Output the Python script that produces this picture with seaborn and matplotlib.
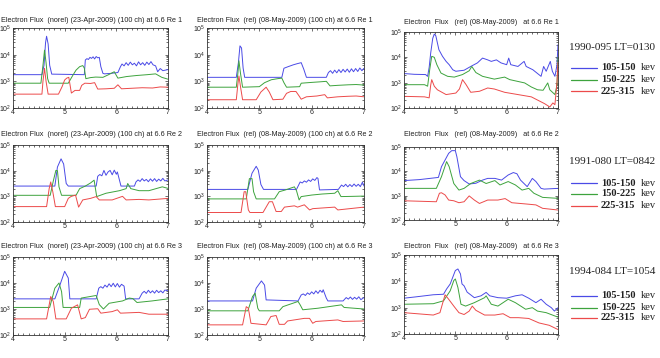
import numpy as np
import pandas as pd
import matplotlib
matplotlib.use("Agg")
import matplotlib.pyplot as plt
import seaborn as sns
from matplotlib.lines import Line2D
from matplotlib.ticker import MultipleLocator, LogLocator, NullFormatter

# log10 of the flux: (L-shell, log10 flux)
p11_blue = [(4.0, 3.25), (4.56, 3.25), (4.60, 3.60), (4.63, 4.45), (4.65, 4.69), (4.68, 4.40), (4.71, 3.60),
            (4.75, 3.27), (5.38, 3.25), (5.40, 3.80), (5.43, 3.85), (5.46, 3.82), (5.49, 3.90), (5.52, 3.86),
            (5.55, 3.92), (5.58, 3.84), (5.61, 3.93), (5.64, 3.88), (5.67, 3.90), (5.70, 3.55), (5.74, 3.30),
            (5.77, 3.28), (5.90, 3.30), (6.03, 3.33), (6.08, 3.55), (6.11, 3.65), (6.15, 3.58), (6.19, 3.70),
            (6.23, 3.60), (6.27, 3.72), (6.31, 3.62), (6.35, 3.68), (6.39, 3.58), (6.43, 3.73), (6.47, 3.62),
            (6.51, 3.70), (6.55, 3.60), (6.59, 3.72), (6.63, 3.63), (6.67, 3.74), (6.71, 3.62), (6.76, 3.58),
            (6.80, 3.36), (6.85, 3.48), (6.90, 3.40), (7.0, 3.44)]
p11_green = [(4.0, 2.93), (4.54, 2.93), (4.58, 3.60), (4.61, 4.17), (4.64, 3.70), (4.67, 3.10), (4.70, 2.93),
             (5.07, 2.93), (5.15, 3.20), (5.22, 3.42), (5.29, 3.55), (5.35, 3.59), (5.38, 3.50), (5.41, 3.10),
             (5.50, 3.14), (5.60, 3.16), (5.74, 3.15), (5.85, 3.25), (5.96, 3.36), (6.03, 3.12), (6.20, 3.18),
             (6.40, 3.22), (6.60, 3.25), (6.76, 3.28), (6.88, 3.15), (7.0, 3.08)]
p11_red = [(4.0, 2.52), (4.56, 2.52), (4.58, 3.00), (4.61, 3.49), (4.64, 3.00), (4.68, 2.52), (4.88, 2.52),
           (4.95, 2.80), (5.00, 3.05), (5.04, 3.12), (5.08, 3.15), (5.13, 2.56), (5.20, 2.66), (5.29, 2.66),
           (5.33, 2.85), (5.39, 2.93), (5.50, 2.92), (5.58, 2.95), (5.64, 2.71), (5.80, 2.72), (5.96, 2.74),
           (6.03, 2.87), (6.10, 2.72), (6.30, 2.74), (6.50, 2.76), (6.70, 2.75), (6.85, 2.79), (7.0, 2.78)]

p12_blue = [(4.0, 3.15), (4.56, 3.15), (4.60, 3.70), (4.63, 4.33), (4.66, 4.25), (4.69, 3.50), (4.72, 3.15),
            (5.43, 3.15), (5.47, 3.49), (5.55, 3.55), (5.65, 3.62), (5.72, 3.66), (5.80, 3.70), (5.85, 3.45),
            (5.90, 3.15), (6.28, 3.15), (6.32, 3.33), (6.36, 3.40), (6.40, 3.30), (6.44, 3.42), (6.48, 3.32),
            (6.52, 3.44), (6.56, 3.33), (6.60, 3.45), (6.64, 3.35), (6.68, 3.46), (6.72, 3.34), (6.76, 3.47),
            (6.80, 3.36), (6.84, 3.48), (6.88, 3.37), (6.92, 3.50), (6.96, 3.40), (7.0, 3.49)]
p12_green = [(4.0, 2.78), (4.56, 2.78), (4.59, 3.30), (4.61, 3.77), (4.64, 3.30), (4.68, 2.78), (5.00, 2.80),
             (5.10, 2.95), (5.23, 3.06), (5.35, 3.10), (5.43, 3.12), (5.47, 2.95), (5.52, 2.78), (5.77, 2.80),
             (5.80, 2.93), (6.00, 2.96), (6.15, 2.98), (6.28, 3.00), (6.35, 2.83), (6.50, 2.85), (6.70, 2.87),
             (6.85, 2.88), (7.0, 2.86)]
p12_red = [(4.0, 2.31), (4.56, 2.31), (4.59, 2.90), (4.61, 3.20), (4.64, 2.80), (4.68, 2.31), (4.94, 2.31),
           (5.03, 2.60), (5.13, 2.78), (5.19, 2.60), (5.26, 2.31), (5.45, 2.33), (5.52, 2.55), (5.60, 2.62),
           (5.70, 2.62), (5.76, 2.45), (5.80, 2.33), (5.90, 2.42), (6.10, 2.45), (6.25, 2.50), (6.30, 2.38),
           (6.50, 2.42), (6.70, 2.44), (6.85, 2.45), (7.0, 2.42)]

p13_blue = [(4.0, 3.36), (4.20, 3.33), (4.42, 3.32), (4.46, 3.25), (4.49, 3.60), (4.52, 4.17), (4.56, 4.75),
            (4.59, 4.92), (4.62, 4.85), (4.68, 4.30), (4.75, 4.04), (4.82, 3.84), (4.88, 3.71), (4.95, 3.51),
            (5.01, 3.45), (5.17, 3.49), (5.30, 3.64), (5.43, 3.78), (5.53, 3.97), (5.63, 3.90), (5.70, 3.84),
            (5.80, 3.90), (5.89, 3.78), (6.00, 3.71), (6.04, 3.97), (6.08, 3.71), (6.22, 3.64), (6.34, 3.84),
            (6.38, 3.64), (6.51, 3.51), (6.67, 3.25), (6.72, 3.64), (6.77, 3.45), (6.85, 3.84), (6.89, 3.45),
            (6.94, 3.25), (6.98, 3.70), (7.0, 4.50)]
p13_green = [(4.0, 2.92), (4.40, 2.92), (4.46, 2.86), (4.50, 3.50), (4.54, 4.04), (4.59, 4.00), (4.64, 3.71),
             (4.72, 3.38), (4.85, 3.25), (4.98, 3.22), (5.14, 3.32), (5.27, 3.47), (5.32, 3.64), (5.40, 3.40),
             (5.53, 3.25), (5.76, 3.14), (5.96, 3.22), (6.06, 3.12), (6.35, 2.99), (6.48, 2.83), (6.60, 2.72),
             (6.71, 2.70), (6.80, 2.99), (6.84, 2.72), (6.94, 2.53), (6.98, 2.90), (7.0, 4.00)]
p13_red = [(4.0, 2.46), (4.40, 2.44), (4.49, 2.40), (4.52, 2.90), (4.54, 3.12), (4.59, 2.86), (4.65, 2.72),
           (4.82, 2.53), (5.01, 2.59), (5.08, 2.75), (5.14, 3.12), (5.21, 2.92), (5.30, 2.62), (5.47, 2.66),
           (5.63, 2.79), (5.76, 2.75), (5.96, 2.62), (6.22, 2.53), (6.48, 2.44), (6.74, 2.17), (6.84, 2.04),
           (6.90, 2.20), (6.94, 2.13), (6.98, 3.00), (7.0, 3.80)]

p21_blue = [(4.0, 3.40), (4.81, 3.40), (4.86, 4.14), (4.93, 4.46), (4.98, 4.26), (5.03, 3.50), (5.07, 3.40),
            (5.61, 3.40), (5.64, 3.78), (5.68, 3.85), (5.72, 3.80), (5.76, 4.01), (5.80, 3.82), (5.84, 3.95),
            (5.88, 4.01), (5.92, 3.84), (5.96, 4.02), (6.00, 3.86), (6.02, 3.95), (6.09, 3.40), (6.35, 3.40),
            (6.38, 3.56), (6.42, 3.64), (6.46, 3.58), (6.50, 3.69), (6.54, 3.60), (6.58, 3.66), (6.62, 3.57),
            (6.66, 3.68), (6.70, 3.59), (6.74, 3.69), (6.78, 3.58), (6.82, 3.67), (6.86, 3.60), (6.90, 3.70),
            (6.94, 3.60), (7.0, 3.64)]
p21_green = [(4.0, 3.04), (4.72, 3.04), (4.78, 3.60), (4.83, 4.01), (4.86, 4.00), (4.89, 3.37), (4.94, 3.04),
             (5.22, 3.04), (5.29, 3.30), (5.40, 3.40), (5.50, 3.52), (5.57, 3.63), (5.62, 2.99), (5.80, 3.12),
             (6.06, 3.22), (6.19, 3.30), (6.22, 3.50), (6.28, 3.30), (6.44, 3.22), (6.63, 3.22), (6.89, 3.37),
             (7.0, 3.31)]
p21_red = [(4.0, 2.60), (4.65, 2.60), (4.70, 3.30), (4.73, 3.56), (4.77, 3.18), (4.82, 2.60), (5.00, 2.60),
           (5.07, 2.92), (5.12, 2.99), (5.21, 3.05), (5.27, 2.58), (5.35, 2.86), (5.50, 2.92), (5.61, 2.99),
           (5.67, 2.86), (5.92, 2.86), (6.12, 3.00), (6.19, 2.86), (6.44, 2.88), (6.63, 2.86), (7.0, 2.92)]

p22_blue = [(4.0, 3.27), (4.78, 3.27), (4.86, 3.90), (4.94, 4.17), (4.98, 4.02), (5.03, 3.46), (5.08, 3.27),
            (5.71, 3.27), (5.78, 3.56), (5.82, 3.52), (5.86, 3.60), (5.90, 3.55), (5.94, 3.64), (5.98, 3.58),
            (6.02, 3.68), (6.06, 3.62), (6.10, 3.73), (6.12, 3.70), (6.15, 3.25), (6.51, 3.27), (6.57, 3.44),
            (6.61, 3.38), (6.65, 3.47), (6.69, 3.37), (6.73, 3.46), (6.77, 3.38), (6.81, 3.48), (6.85, 3.39),
            (6.89, 3.47), (6.93, 3.38), (6.97, 3.55), (7.0, 3.40)]
p22_green = [(4.0, 2.90), (4.75, 2.90), (4.81, 3.69), (4.86, 3.69), (4.89, 3.18), (4.94, 2.90), (5.29, 2.90),
             (5.38, 3.18), (5.50, 3.25), (5.67, 3.37), (5.71, 3.22), (5.76, 2.86), (5.80, 2.99), (6.00, 3.05),
             (6.20, 3.09), (6.44, 3.12), (6.50, 3.22), (6.56, 2.99), (6.80, 3.00), (7.0, 3.01)]
p22_red = [(4.0, 2.37), (4.65, 2.37), (4.71, 3.18), (4.74, 3.18), (4.79, 2.47), (4.82, 2.37), (5.07, 2.37),
           (5.19, 2.79), (5.25, 2.79), (5.32, 2.41), (5.42, 2.41), (5.48, 2.58), (5.67, 2.63), (5.73, 2.58),
           (5.86, 2.67), (5.96, 2.47), (6.02, 2.52), (6.44, 2.58), (6.50, 2.47), (7.0, 2.58)]

p23_blue = [(4.0, 3.62), (4.30, 3.66), (4.67, 3.75), (4.73, 4.19), (4.87, 4.74), (4.93, 4.85), (5.00, 4.85),
            (5.03, 4.60), (5.10, 3.78), (5.17, 3.62), (5.27, 3.48), (5.40, 3.51), (5.53, 3.64), (5.63, 3.71),
            (5.77, 3.71), (5.90, 3.64), (6.03, 3.85), (6.13, 3.95), (6.20, 3.90), (6.27, 3.64), (6.40, 3.37),
            (6.50, 3.71), (6.57, 3.58), (6.67, 3.30), (6.73, 3.27), (7.0, 3.30)]
p23_green = [(4.0, 3.30), (4.63, 3.30), (4.73, 3.78), (4.83, 4.40), (4.88, 4.19), (4.97, 3.50), (5.07, 3.23),
             (5.17, 3.30), (5.30, 3.50), (5.47, 3.64), (5.60, 3.50), (5.77, 3.62), (5.87, 3.44), (6.03, 3.58),
             (6.17, 3.44), (6.30, 3.23), (6.43, 3.30), (6.53, 3.10), (6.70, 2.93), (7.0, 2.89)]
p23_red = [(4.0, 2.79), (4.63, 2.75), (4.69, 3.10), (4.73, 3.12), (4.80, 3.03), (4.87, 2.82), (4.97, 2.79),
           (5.07, 2.71), (5.17, 2.75), (5.27, 2.99), (5.37, 2.82), (5.47, 2.68), (5.63, 2.82), (5.83, 2.82),
           (5.97, 2.88), (6.10, 2.71), (6.37, 2.66), (6.57, 2.62), (6.70, 2.48), (7.0, 2.41)]

p31_blue = [(4.0, 3.39), (4.81, 3.39), (4.91, 3.93), (5.00, 4.45), (5.07, 4.19), (5.10, 3.39), (5.61, 3.39),
            (5.66, 3.80), (5.70, 3.86), (5.74, 3.80), (5.78, 3.92), (5.82, 3.84), (5.86, 3.97), (5.90, 3.86),
            (5.94, 3.99), (5.98, 3.85), (6.02, 3.98), (6.06, 3.84), (6.10, 3.95), (6.15, 3.88), (6.18, 3.39),
            (6.44, 3.39), (6.50, 3.61), (6.54, 3.68), (6.58, 3.60), (6.62, 3.72), (6.66, 3.62), (6.70, 3.70),
            (6.74, 3.61), (6.78, 3.72), (6.82, 3.63), (6.86, 3.70), (6.90, 3.62), (6.94, 3.73), (7.0, 3.70)]
p31_green = [(4.0, 3.06), (4.71, 3.06), (4.81, 3.80), (4.89, 4.00), (4.94, 3.67), (4.97, 3.06), (5.29, 3.06),
             (5.32, 3.42), (5.61, 3.52), (5.67, 3.17), (5.75, 3.00), (5.86, 3.22), (6.12, 3.31), (6.25, 3.42),
             (6.32, 3.40), (6.40, 3.25), (6.69, 3.31), (7.0, 3.39)]
p31_red = [(4.0, 2.62), (4.65, 2.62), (4.73, 3.48), (4.78, 3.29), (4.83, 2.62), (5.03, 2.62), (5.13, 3.03),
           (5.25, 3.16), (5.32, 2.62), (5.40, 2.67), (5.48, 2.99), (5.64, 3.01), (5.70, 2.84), (5.92, 2.90),
           (6.02, 2.97), (6.08, 2.84), (6.44, 2.87), (6.63, 2.80), (7.0, 2.80)]

p32_blue = [(4.0, 3.31), (4.87, 3.31), (4.94, 3.80), (5.04, 4.08), (5.10, 3.92), (5.13, 3.35), (5.74, 3.31),
            (5.80, 3.54), (5.84, 3.58), (5.88, 3.52), (5.92, 3.62), (5.96, 3.56), (6.00, 3.66), (6.04, 3.58),
            (6.08, 3.70), (6.12, 3.60), (6.16, 3.72), (6.20, 3.64), (6.22, 3.74), (6.28, 3.42), (6.31, 3.31),
            (6.60, 3.31), (6.66, 3.44), (6.70, 3.38), (6.74, 3.46), (6.78, 3.37), (6.82, 3.45), (6.86, 3.38),
            (6.90, 3.47), (6.94, 3.36), (7.0, 3.44)]
p32_green = [(4.0, 2.93), (4.78, 2.93), (4.87, 3.48), (4.92, 3.61), (4.97, 3.03), (5.00, 2.93), (5.38, 2.93),
             (5.45, 3.09), (5.74, 3.29), (5.78, 3.16), (5.83, 2.97), (6.12, 3.03), (6.57, 3.16), (6.62, 3.06),
             (7.0, 3.00)]
p32_red = [(4.0, 2.39), (4.68, 2.39), (4.75, 3.09), (4.79, 3.03), (4.84, 2.45), (5.13, 2.39), (5.22, 2.71),
           (5.32, 2.75), (5.38, 2.41), (5.48, 2.41), (5.54, 2.54), (5.86, 2.64), (5.96, 2.64), (6.02, 2.45),
           (6.08, 2.52), (6.50, 2.58), (6.60, 2.52), (7.0, 2.54)]

p33_blue = [(4.0, 3.36), (4.23, 3.41), (4.57, 3.49), (4.77, 3.51), (4.83, 3.71), (4.90, 3.90), (5.00, 4.41),
            (5.05, 4.47), (5.10, 4.28), (5.13, 3.90), (5.17, 3.83), (5.23, 3.59), (5.37, 3.38), (5.50, 3.45),
            (5.60, 3.58), (5.67, 3.45), (5.83, 3.38), (6.00, 3.36), (6.17, 3.45), (6.30, 3.49), (6.43, 3.36),
            (6.57, 3.19), (6.67, 3.32), (6.77, 3.13), (6.87, 3.00), (6.93, 2.87), (7.0, 3.00)]
p33_green = [(4.0, 3.13), (4.57, 3.15), (4.77, 3.26), (4.90, 3.64), (4.97, 4.03), (5.00, 4.09), (5.05, 3.77),
             (5.11, 3.13), (5.20, 3.06), (5.37, 3.19), (5.57, 3.38), (5.60, 3.45), (5.70, 3.13), (5.83, 3.06),
             (6.03, 3.32), (6.17, 3.19), (6.37, 2.94), (6.50, 3.00), (6.60, 2.87), (6.77, 2.81), (7.0, 2.64)]
p33_red = [(4.0, 2.81), (4.57, 2.72), (4.70, 2.81), (4.80, 3.49), (4.87, 3.32), (4.97, 3.06), (5.07, 2.81),
           (5.17, 2.74), (5.27, 2.87), (5.33, 3.06), (5.40, 2.90), (5.57, 2.72), (5.77, 2.72), (5.93, 2.77),
           (6.07, 2.62), (6.23, 2.62), (6.43, 2.59), (6.63, 2.42), (6.83, 2.33), (7.0, 2.17)]

bands = ["105-150", "150-225", "225-315"]
band_colors = {"105-150": "#4a4ae6", "150-225": "#3da33d", "225-315": "#ec4a4a"}

panels = [
    [(p11_blue, p11_green, p11_red), (p12_blue, p12_green, p12_red), (p13_blue, p13_green, p13_red)],
    [(p21_blue, p21_green, p21_red), (p22_blue, p22_green, p22_red), (p23_blue, p23_green, p23_red)],
    [(p31_blue, p31_green, p31_red), (p32_blue, p32_green, p32_red), (p33_blue, p33_green, p33_red)],
]

title_norel = "Electron Flux  (norel) (23-Apr-2009) (100 ch) at 6.6 Re {}"
title_rel = "Electron Flux  (rel) (08-May-2009) (100 ch) at 6.6 Re {}"
title_rel3 = "Electron  Flux   (rel) (08-May-2009)   at 6.6 Re {}"
sat_labels = ["1990-095 LT=0130", "1991-080 LT=0842", "1994-084 LT=1054"]

W, H = 660, 358

def fx(x):
    return x / W

def fy(y):
    return 1 - y / H

sns.set_style("ticks")
plt.rcParams['font.family'] = ['Liberation Sans', 'DejaVu Sans']
plt.rcParams['mathtext.fontset'] = 'custom'
plt.rcParams['mathtext.rm'] = 'Liberation Sans'

fig = plt.figure(figsize=(6.6, 3.58), dpi=100)

# axes boxes in pixels: left, right, top, bottom
col_lr = [(13, 168), (207, 364), (404, 558)]
row_tb = [[(28, 108), (145, 222), (257, 335)],
          [(28, 108), (145, 222), (257, 335)],
          [(32, 108), (147, 220), (255, 334)]]
title_xy = [[(1, 21), (1, 134), (1, 246)],
            [(197, 21), (197, 134), (197, 246)],
            [(404, 23), (404, 134), (404, 246)]]

for r in range(3):
    for c in range(3):
        l, rt = col_lr[c]
        t, b = row_tb[c][r]
        ax = fig.add_axes([fx(l), fy(b), fx(rt - l), (b - t) / H])
        frames = []
        for band, pts in zip(bands, panels[r][c]):
            d = pd.DataFrame(pts, columns=["L", "logflux"])
            d["flux"] = 10 ** d["logflux"]
            d["band"] = band
            frames.append(d)
        df = pd.concat(frames)
        sns.lineplot(data=df, x="L", y="flux", hue="band", palette=band_colors,
                     estimator=None, sort=False, legend=False, linewidth=0.7, ax=ax)
        ax.set_yscale("log")
        ax.set_xlim(4, 7)
        ax.set_ylim(1e2, 1e5)
        ax.set_xticks([4, 5, 6, 7])
        ax.xaxis.set_minor_locator(MultipleLocator(0.1))
        ax.yaxis.set_minor_locator(LogLocator(base=10, subs=np.arange(2, 10)))
        ax.yaxis.set_minor_formatter(NullFormatter())
        ax.set_xlabel("")
        ax.set_ylabel("")
        ax.tick_params(which="both", direction="in", top=True, right=True, width=0.5, colors="#333333")
        ax.tick_params(which="major", length=2.5, labelsize=5, pad=1, labelcolor="#222222")
        ax.tick_params(which="minor", length=1.2)
        for s in ax.spines.values():
            s.set_linewidth(0.6)
            s.set_color("#333333")
        if c == 0:
            ttl = title_norel.format(r + 1)
        elif c == 1:
            ttl = title_rel.format(r + 1)
        else:
            ttl = title_rel3.format(r + 1)
        tx, ty = title_xy[c][r]
        fig.text(fx(tx), fy(ty), ttl, fontsize=5.2, ha="left", va="center", color="#222222")

# satellite legends on the right
leg_title_y = [48, 162, 271]
leg_rows_y = [[68, 80, 91], [183, 194, 206], [296, 308, 318]]
for i in range(3):
    fig.text(fx(569), fy(leg_title_y[i]), sat_labels[i], fontsize=8, family="Liberation Serif",
             ha="left", va="center", color="#222222")
    for band, yy in zip(bands, leg_rows_y[i]):
        fig.add_artist(Line2D([fx(571), fx(597)], [fy(yy), fy(yy)], color=band_colors[band], linewidth=0.9))
        fig.text(fx(601), fy(yy), band, fontsize=7.5, family="Liberation Serif", fontweight="bold",
                 ha="left", va="center", color="#222222")
        fig.text(fx(641), fy(yy), "kev", fontsize=7.5, family="Liberation Serif",
                 ha="left", va="center", color="#222222")

fig.savefig("out.png", dpi=100)
